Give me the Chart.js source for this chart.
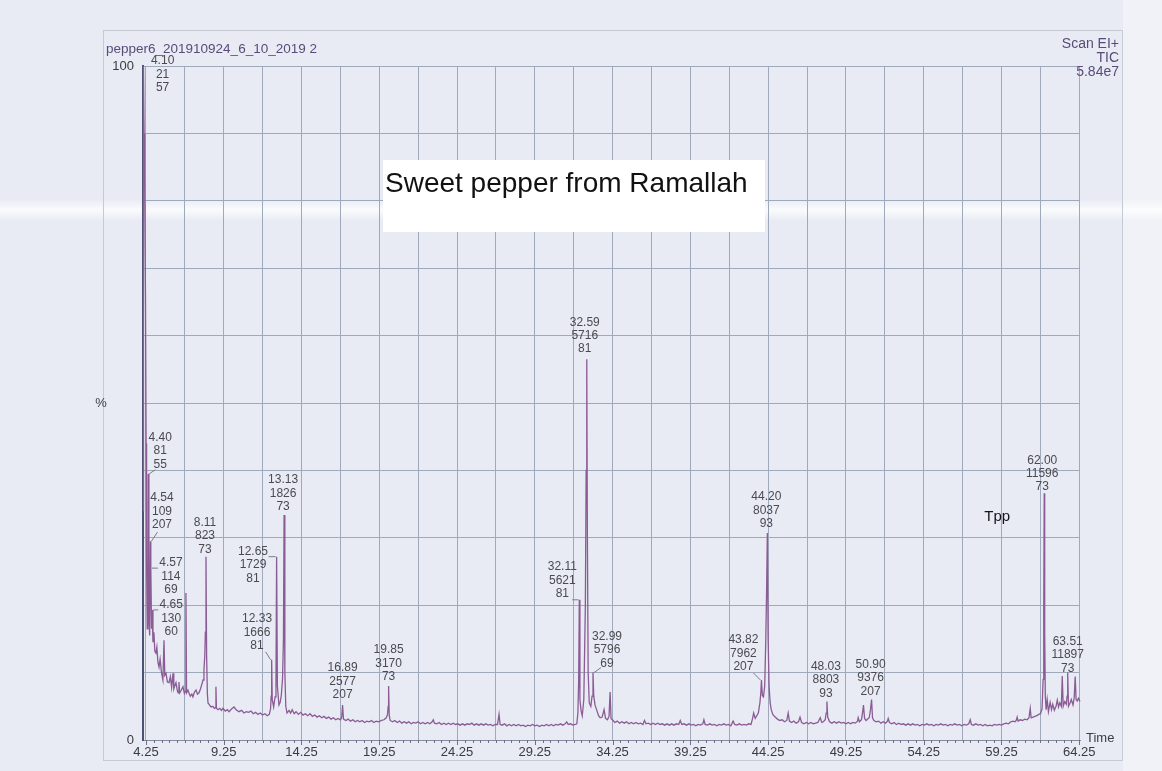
<!DOCTYPE html>
<html>
<head>
<meta charset="utf-8">
<title>pepper6 TIC</title>
<script src="https://cdn.jsdelivr.net/npm/chart.js@4.4.1/dist/chart.umd.min.js"></script>
<style>
  html, body { margin: 0; padding: 0; background: #e8ebf4; }
  canvas { display: block; }
</style>
</head>
<body>
<canvas id="tic" width="1162" height="771"></canvas>
<script>
// Total ion chromatogram: retention time (min) and relative abundance (%)
const retentionTime = [
  4.06, 4.08, 4.10, 4.13, 4.17, 4.22, 4.26, 4.29, 4.33, 4.37,
  4.40, 4.44, 4.49, 4.54, 4.555, 4.57, 4.61, 4.65, 4.70, 4.76,
  4.82, 4.89, 4.95, 5.02, 5.09, 5.16, 5.25, 5.34, 5.41, 5.46,
  5.54, 5.63, 5.73, 5.82, 5.90, 5.99, 6.04, 6.10, 6.18, 6.27,
  6.32, 6.37, 6.42, 6.50, 6.63, 6.72, 6.79, 6.82, 6.86, 6.95,
  7.01, 7.10, 7.20, 7.27, 7.37, 7.47, 7.56, 7.66, 7.76, 7.86,
  7.92, 7.98, 8.03, 8.07, 8.11, 8.15, 8.20, 8.24,
  8.33, 8.43, 8.55, 8.65, 8.72, 8.75, 8.78, 8.88, 9.00, 9.10,
  9.20, 9.35, 9.48, 9.59, 9.75, 9.91, 10.05, 10.23, 10.40, 10.55,
  10.70, 10.85, 11.00, 11.15, 11.30, 11.45, 11.60, 11.75, 11.90, 12.05,
  12.18, 12.26, 12.30, 12.33, 12.37, 12.46, 12.55, 12.61, 12.65, 12.70,
  12.80, 12.88, 12.95, 13.03, 13.09, 13.13, 13.18, 13.24, 13.32,
  13.45, 13.55, 13.65, 13.78, 13.90, 14.05, 14.20, 14.35, 14.50, 14.65,
  14.80, 14.95, 15.10, 15.25, 15.40, 15.55, 15.70, 15.85, 16.00, 16.15,
  16.30, 16.45, 16.60, 16.75, 16.83, 16.89, 16.95, 17.10, 17.25, 17.40,
  17.55, 17.70, 17.85, 18.00, 18.15, 18.30, 18.45, 18.60, 18.75, 18.90,
  19.05, 19.20, 19.40, 19.55, 19.70, 19.78, 19.82, 19.85, 19.89, 19.95,
  20.10, 20.25, 20.40, 20.55, 20.70, 20.85, 21.00, 21.15, 21.30, 21.45,
  21.60, 21.75, 21.90, 22.05, 22.20, 22.35, 22.50, 22.65, 22.72, 22.80,
  22.95, 23.10, 23.25, 23.40, 23.55, 23.70, 23.85, 24.00, 24.15, 24.30,
  24.45, 24.60, 24.75, 24.90, 25.05, 25.20, 25.35, 25.50, 25.65, 25.80,
  25.95, 26.10, 26.25, 26.40, 26.55, 26.70, 26.85, 26.95, 27.02, 27.15,
  27.30, 27.45, 27.60, 27.75, 27.90, 28.05, 28.20, 28.35, 28.50, 28.65,
  28.80, 28.95, 29.10, 29.25, 29.40, 29.55, 29.70, 29.85, 30.00, 30.15,
  30.30, 30.45, 30.60, 30.75, 30.90, 31.05, 31.20, 31.30, 31.40, 31.55,
  31.70, 31.85, 31.95,
  32.02, 32.07, 32.11, 32.15, 32.22, 32.30, 32.40, 32.50, 32.55, 32.59,
  32.63, 32.68, 32.75, 32.85, 32.93, 32.99, 33.04, 33.12, 33.22, 33.35,
  33.45, 33.58, 33.70, 33.80, 33.92, 34.02, 34.09, 34.15, 34.28,
  34.40, 34.55, 34.70, 34.85, 35.00, 35.15, 35.30, 35.45, 35.60, 35.75,
  35.90, 36.05, 36.20, 36.30, 36.40, 36.55, 36.70, 36.85, 37.00, 37.15,
  37.30, 37.45, 37.60, 37.75, 37.90, 38.05, 38.20, 38.35, 38.50, 38.60,
  38.70, 38.85, 39.00, 39.15, 39.30, 39.45, 39.60, 39.75, 39.90, 40.05,
  40.12, 40.20, 40.35, 40.50, 40.65, 40.80, 40.95, 41.10, 41.25, 41.40,
  41.55, 41.70, 41.85, 42.00, 42.10, 42.25, 42.40, 42.55, 42.70, 42.85,
  43.00, 43.15,
  43.25, 43.32, 43.42, 43.52, 43.62, 43.72, 43.78, 43.82, 43.88, 43.95,
  44.03, 44.10, 44.15, 44.20, 44.25, 44.31, 44.38, 44.45, 44.55, 44.70,
  44.85, 45.00, 45.15, 45.30, 45.45, 45.54, 45.62, 45.75, 45.90, 46.05,
  46.20, 46.30, 46.40, 46.55, 46.70, 46.85, 47.00, 47.15, 47.30, 47.45,
  47.60, 47.70, 47.80, 47.92, 47.98, 48.03, 48.08, 48.20, 48.35, 48.50,
  48.65, 48.80, 48.95, 49.10, 49.25, 49.40, 49.55, 49.70, 49.85, 50.00,
  50.04, 50.12, 50.25, 50.33, 50.38, 50.45, 50.55, 50.65, 50.75, 50.83,
  50.90, 50.96, 51.05, 51.20, 51.35, 51.50, 51.65, 51.80, 51.92, 51.97,
  52.05,
  52.20, 52.35, 52.50, 52.65, 52.80, 52.95, 53.10, 53.25, 53.40, 53.55,
  53.70, 53.85, 54.00, 54.15, 54.30, 54.45, 54.60, 54.75, 54.90, 55.05,
  55.20, 55.35, 55.50, 55.65, 55.80, 55.95, 56.10, 56.25, 56.40, 56.55,
  56.70, 56.85, 57.00, 57.15, 57.24, 57.32, 57.45, 57.60, 57.75, 57.90,
  58.05, 58.20, 58.35, 58.50, 58.65, 58.80, 58.95, 59.10, 59.25, 59.40,
  59.55, 59.70, 59.85, 60.00, 60.12, 60.20, 60.26, 60.32, 60.45, 60.60,
  60.75, 60.90, 61.02, 61.10, 61.16, 61.28, 61.40, 61.52, 61.64, 61.76,
  61.86,
  61.93, 61.97, 62.00, 62.03, 62.07, 62.12, 62.19, 62.27, 62.38, 62.47,
  62.55, 62.65, 62.76, 62.84, 62.92, 63.00, 63.10, 63.16, 63.22, 63.32,
  63.42, 63.47, 63.51, 63.56, 63.66, 63.74, 63.85, 63.93, 63.99, 64.05,
  64.12, 64.20, 64.30
];

const abundance = [
  34, 78, 100, 90, 84, 66, 44, 26, 16.5, 22,
  39.5, 18, 15.5, 29.5, 20.5, 25.5, 16.5, 19.3, 14.5, 16.0,
  13.2, 12.9, 13.8, 11.5, 10.8, 12.0, 10.0, 8.9, 14.8, 9.6,
  9.9, 8.6, 8.5, 9.4, 7.8, 9.9, 7.6, 8.0, 8.5, 7.3,
  7.0, 8.6, 7.0, 7.3, 7.9, 6.9, 7.2, 21.8, 7.0, 7.4,
  7.0, 6.5, 6.8, 6.4, 7.1, 7.4, 6.8, 7.0, 7.6, 8.4,
  8.9, 10.5, 12.4, 16.0, 27.2, 12.5, 6.8, 5.5,
  5.2, 4.9, 5.0, 4.7, 4.8, 7.9, 4.7, 4.5, 4.7, 4.4,
  4.7, 4.3, 4.5, 4.2, 4.6, 4.9, 4.5, 4.2, 4.4, 4.0,
  4.2, 4.1, 4.3, 3.9, 4.1, 3.8, 4.0, 3.7, 3.9, 3.6,
  3.8, 4.6, 6.5, 11.9, 6.0, 4.9, 6.4, 9.0, 27.2, 8.0,
  5.2, 5.6, 6.6, 9.0, 15.0, 33.4, 10.0, 5.0, 4.0,
  4.4, 4.0, 4.5, 3.9, 4.2, 3.8, 4.1, 3.7, 3.9, 3.6,
  3.9, 3.5, 3.7, 3.4, 3.6, 3.3, 3.5, 3.2, 3.4, 3.1,
  3.3, 3.0, 3.2, 3.0, 3.3, 5.2, 3.1, 2.9, 3.1, 2.8,
  3.0, 2.7, 2.9, 2.7, 2.9, 2.6, 2.8, 2.7, 2.9, 2.6,
  2.8, 2.7, 2.9, 3.0, 3.3, 3.8, 5.0, 8.0, 3.6, 2.9,
  2.7, 2.9, 2.6, 2.8, 2.5, 2.7, 2.5, 2.7, 2.4, 2.6,
  2.5, 2.7, 2.4, 2.6, 2.4, 2.6, 2.4, 2.7, 3.0, 2.5,
  2.4, 2.6, 2.3, 2.5, 2.3, 2.5, 2.3, 2.5, 2.3, 2.4,
  2.2, 2.4, 2.2, 2.4, 2.3, 2.5, 2.2, 2.4, 2.2, 2.4,
  2.2, 2.4, 2.2, 2.3, 2.1, 2.3, 2.3, 3.8, 2.3, 2.2,
  2.4, 2.1, 2.3, 2.1, 2.3, 2.1, 2.3, 2.1, 2.2, 2.0,
  2.2, 2.1, 2.3, 2.1, 2.2, 2.0, 2.2, 2.1, 2.3, 2.1,
  2.3, 2.1, 2.3, 2.2, 2.4, 2.2, 2.4, 2.7, 2.3, 2.4,
  2.2, 2.3, 2.4,
  4.0, 9.0, 20.8, 6.0, 4.4, 3.6, 6.0, 20.0, 40.0, 56.5,
  30.0, 10.0, 5.5, 5.0, 6.5, 10.0, 6.5, 5.2, 4.5, 3.6,
  3.3, 3.4, 4.5, 3.2, 3.0, 3.5, 7.1, 3.2, 2.9,
  2.6, 2.8, 2.5, 2.7, 2.5, 2.7, 2.4, 2.6, 2.4, 2.6,
  2.4, 2.5, 2.3, 2.9, 2.4, 2.5, 2.3, 2.5, 2.3, 2.5,
  2.3, 2.4, 2.2, 2.4, 2.2, 2.4, 2.2, 2.4, 2.3, 2.9,
  2.3, 2.4, 2.2, 2.4, 2.2, 2.3, 2.1, 2.3, 2.2, 2.4,
  3.0, 2.3, 2.2, 2.4, 2.2, 2.3, 2.1, 2.3, 2.2, 2.4,
  2.2, 2.3, 2.1, 2.8, 2.3, 2.2, 2.4, 2.2, 2.3, 2.2,
  2.4, 2.3,
  3.2, 4.0, 3.2, 3.6, 4.0, 5.5, 7.0, 8.9, 6.6, 6.4,
  8.0, 15.0, 22.0, 30.7, 15.0, 8.0, 5.5, 4.5, 3.8, 3.4,
  3.1, 2.9, 3.0, 2.7, 2.9, 4.0, 2.8, 2.6, 2.8, 2.5,
  2.7, 3.4, 2.6, 2.4, 2.6, 2.4, 2.6, 2.4, 2.5, 2.6,
  3.3, 2.6, 2.7, 3.0, 4.0, 5.7, 3.4, 2.7, 2.5, 2.7,
  2.5, 2.7, 2.5, 2.6, 2.4, 2.6, 2.4, 2.6, 2.5, 2.8,
  3.3, 2.7, 3.0, 4.2, 5.2, 3.2, 2.9, 3.1, 3.3, 4.5,
  6.0, 3.3, 2.9, 2.7, 2.8, 2.5, 2.7, 2.5, 2.8, 3.2,
  2.6,
  2.4, 2.6, 2.3, 2.5, 2.3, 2.4, 2.2, 2.4, 2.2, 2.4,
  2.2, 2.3, 2.1, 2.3, 2.2, 2.4, 2.2, 2.3, 2.1, 2.3,
  2.2, 2.4, 2.2, 2.3, 2.1, 2.3, 2.2, 2.4, 2.2, 2.3,
  2.1, 2.3, 2.2, 2.4, 3.0, 2.3, 2.2, 2.4, 2.2, 2.3,
  2.1, 2.3, 2.1, 2.2, 2.1, 2.3, 2.2, 2.3, 2.2, 2.4,
  2.5, 2.4, 2.7, 2.8, 2.7, 2.9, 3.4, 2.8, 3.0, 2.9,
  3.1, 3.0, 3.3, 4.7, 3.3, 3.4, 3.5, 3.6, 3.8, 3.9,
  4.6,
  9.0, 20.0, 36.6, 16.0, 6.5, 4.5, 6.0, 4.2, 5.6, 4.5,
  5.3, 4.4, 5.0, 5.9, 4.9, 5.5, 5.0, 9.5, 5.0, 5.7,
  5.3, 6.5, 10.0, 5.0, 5.5, 6.0, 5.2, 6.3, 9.4, 6.0,
  5.8, 6.2, 5.7
];

// Integrated peaks: retention time, peak area, base-peak m/z
const peakTime = [4.10, 4.40, 4.54, 4.57, 4.65, 8.11, 12.33, 12.65, 13.13, 16.89,
                  19.85, 32.11, 32.59, 32.99, 43.82, 44.20, 48.03, 50.90, 62.00, 63.51];
const peakArea = ['21', '81', '109', '114', '130', '823', '1666', '1729', '1826', '2577',
                  '3170', '5621', '5716', '5796', '7962', '8037', '8803', '9376', '11596', '11897'];
const peakMass = ['57', '55', '207', '69', '60', '73', '81', '81', '73', '207',
                  '73', '81', '81', '69', '207', '93', '93', '207', '73', '73'];

// Axis ticks
const timeGrid = [4.25, 6.75, 9.25, 11.75, 14.25, 16.75, 19.25, 21.75, 24.25, 26.75,
                  29.25, 31.75, 34.25, 36.75, 39.25, 41.75, 44.25, 46.75, 49.25, 51.75,
                  54.25, 56.75, 59.25, 61.75, 64.25];
const timeTickLabels = ['4.25', '9.25', '14.25', '19.25', '24.25', '29.25', '34.25',
                        '39.25', '44.25', '49.25', '54.25', '59.25', '64.25'];
const abundanceGrid = [0, 10, 20, 30, 40, 50, 60, 70, 80, 90, 100];

// ---- presentation ----
const FONT = "'Liberation Sans', Arial, sans-serif";
const GRID = '#a0a8bb';

// label placement relative to each apex: [dx, dy of first line, leader start or null]
const labelLayout = [
  [19, -5, null], [12, -36, [7, -4]], [11.5, -43, [7, -9]], [20, -5, [7, 0]], [19, -5, [6, 0]],
  [-1, -34, null], [-14.6, -41, [-6, -8]], [-23.6, -5, [-8, 0]], [-1, -35, null], [0, -37, null],
  [0, -36, null], [-17, -33, [-7, 0]], [-2, -37, null], [14, -36, [8, -5]], [-18, -40, [-8, -7]],
  [-1, -36, null], [-1, -35, null], [-1, -35, null], [-2, -33, null], [0, -31, null]
];
const tppAt = [58.98, 33.1];

const pageDecor = {
  id: 'pageDecor',
  beforeDraw(chart) {
    const c = chart.ctx, W = chart.width, H = chart.height;
    c.save();
    c.fillStyle = '#e8ebf4';
    c.fillRect(0, 0, W, H);
    c.fillStyle = '#f1f2f8';
    c.fillRect(1123, 0, W - 1123, H);
    const g = c.createLinearGradient(0, 199, 0, 221);
    g.addColorStop(0, 'rgba(255,255,255,0)');
    g.addColorStop(0.5, 'rgba(255,255,255,0.8)');
    g.addColorStop(1, 'rgba(255,255,255,0)');
    c.fillStyle = g;
    c.fillRect(0, 199, W, 22);
    c.strokeStyle = '#c6cad7';
    c.lineWidth = 1;
    c.strokeRect(103.5, 30.5, 1019, 730);
    c.restore();
  }
};

const peakNotes = {
  id: 'peakNotes',
  afterDatasetsDraw(chart) {
    const c = chart.ctx;
    const { x, y } = chart.scales;
    c.save();

    // time axis tick marks (minor every 0.5 min, major every 5 min)
    const base = y.getPixelForValue(0);
    c.strokeStyle = '#6b7183';
    c.lineWidth = 1;
    for (let k = 0; k <= 120; k++) {
      const px = Math.round(x.getPixelForValue(4.25 + k * 0.5)) + 0.5;
      c.beginPath();
      c.moveTo(px, base);
      c.lineTo(px, base + (k % 10 === 0 ? 5 : 3));
      c.stroke();
    }

    // peak annotations
    c.font = '12px ' + FONT;
    c.textAlign = 'center';
    c.textBaseline = 'middle';
    peakTime.forEach((t, k) => {
      const idx = retentionTime.findIndex(v => Math.abs(v - t) < 1e-6);
      const ax = x.getPixelForValue(t);
      const ay = y.getPixelForValue(abundance[idx]);
      const [dx, dy, lead] = labelLayout[k];
      if (lead) {
        c.strokeStyle = '#7d7c88';
        c.beginPath();
        c.moveTo(ax + lead[0], ay + lead[1]);
        c.lineTo(ax + (lead[0] > 0 ? 1 : -1), ay);
        c.stroke();
      }
      c.fillStyle = '#4a4a4f';
      [t.toFixed(2), peakArea[k], peakMass[k]].forEach((s, j) => {
        c.fillText(s, ax + dx, ay + dy + j * 13.4);
      });
    });

    // y axis caption
    c.fillStyle = '#3c3c44';
    c.font = '13px ' + FONT;
    c.fillText('%', 101, y.getPixelForValue(50));

    // time axis caption
    c.textAlign = 'left';
    c.fillText('Time', 1086, base - 2);

    // run header
    c.fillStyle = '#584b78';
    c.font = '13.5px ' + FONT;
    c.fillText('pepper6_201910924_6_10_2019 2', 106, 49);
    c.textAlign = 'right';
    c.font = '14px ' + FONT;
    c.fillText('Scan EI+', 1119, 44);
    c.fillText('TIC', 1119, 58);
    c.fillText('5.84e7', 1119, 72);

    // internal standard marker
    c.textAlign = 'center';
    c.fillStyle = '#151515';
    c.font = '15px ' + FONT;
    c.fillText('Tpp', x.getPixelForValue(tppAt[0]), y.getPixelForValue(tppAt[1]));

    // sample caption
    c.fillStyle = '#ffffff';
    c.fillRect(383, 160, 382, 72);
    c.fillStyle = '#111111';
    c.font = '28px ' + FONT;
    c.textAlign = 'left';
    c.textBaseline = 'alphabetic';
    c.fillText('Sweet pepper from Ramallah', 385, 192);

    c.restore();
  }
};

new Chart(document.getElementById('tic'), {
  type: 'line',
  data: {
    datasets: [{
      data: retentionTime.map((t, i) => ({ x: t, y: abundance[i] })),
      borderColor: '#8a5b94',
      borderWidth: 1.3,
      pointRadius: 0,
      tension: 0,
      fill: false,
      clip: 6
    }]
  },
  options: {
    responsive: false,
    animation: false,
    devicePixelRatio: 1,
    layout: { padding: { top: 66, right: 82, bottom: 0, left: 0 } },
    plugins: { legend: { display: false }, tooltip: { enabled: false } },
    scales: {
      x: {
        type: 'linear',
        min: 4.06,
        max: 64.3,
        afterBuildTicks: axis => { axis.ticks = timeGrid.map(v => ({ value: v })); },
        afterFit: axis => { axis.height = 31; },
        grid: { color: GRID, lineWidth: 1, drawTicks: false },
        border: { display: true, color: '#858ca0', width: 1 },
        ticks: {
          autoSkip: false,
          maxRotation: 0,
          padding: 5,
          color: '#3a3a40',
          font: { family: FONT, size: 13 },
          callback: v => timeTickLabels.find(s => Math.abs(parseFloat(s) - v) < 1e-6) || ''
        }
      },
      y: {
        min: 0,
        max: 100,
        afterBuildTicks: axis => { axis.ticks = abundanceGrid.map(v => ({ value: v })); },
        afterFit: axis => { axis.width = 143; },
        grid: { color: GRID, lineWidth: 1, drawTicks: false },
        border: { display: true, color: '#4b5174', width: 2 },
        ticks: {
          autoSkip: false,
          padding: 9,
          color: '#3a3a40',
          font: { family: FONT, size: 13 },
          callback: v => (v === 100 ? '100' : v === 0 ? '0' : '')
        }
      }
    }
  },
  plugins: [pageDecor, peakNotes]
});
</script>
</body>
</html>
